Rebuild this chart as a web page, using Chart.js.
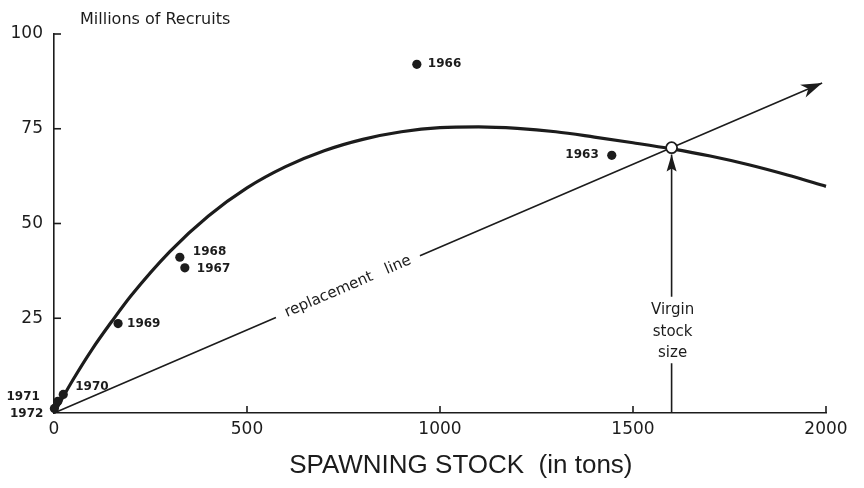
<!DOCTYPE html>
<html><head><meta charset="utf-8">
<script src="https://cdn.jsdelivr.net/npm/chart.js@4.4.0/dist/chart.umd.min.js"></script>
<style>html,body{margin:0;padding:0;background:#fff}#wrap{width:864px;height:488px}</style>
</head><body><div id="wrap"><canvas id="c" width="864" height="488"></canvas></div>
<script>
// ---- data ----
const years = ['1963', '1966', '1967', '1968', '1969', '1970', '1971', '1972'];
const stockTons = [1445, 940, 339, 326, 166, 24, 10, 1];
const recruitsMillions = [68, 92, 38.3, 41.1, 23.6, 4.9, 3.1, 1.2];

const curveStock = [0, 50, 100, 150, 200, 300, 400, 500, 600, 700, 800, 900, 1000, 1100, 1200, 1300, 1400, 1500, 1600, 1700, 1800, 1900, 2000];
const curveRecruits = [0, 8.9, 17, 24.2, 31, 42.6, 52, 59.4, 65, 69.2, 72.2, 74.2, 75.3, 75.5, 75.1, 74.2, 72.8, 71.3, 69.7, 67.8, 65.5, 62.8, 59.8];

const replacementStock = [0, 575, null, 948, 1990];
const replacementRecruits = [0, 25.2, null, 41.5, 87.1];

const virginStock = [1600];
const virginRecruits = [70];
const virginArrowRecruits = [0, 13.1, null, 30.7, 68.2];

const xTickValues = [0, 500, 1000, 1500, 2000];
const yTickValues = [0, 25, 50, 75, 100];
const xTickLabels = ['0', '500', '1000', '1500', '2000'];
const yTickLabels = ['0', '25', '50', '75', '100'];

const yAxisTitle = 'Millions of Recruits';
const xAxisTitle = 'SPAWNING STOCK  (in tons)';
const replacementLabel = 'replacement   line';
const virginLabel = ['Virgin', 'stock', 'size'];

// ---- styles ----
const INK = '#1c1c1c';
const labelStyle = {
  '1963': {dx: -13, dy: 0, align: 'right'},
  '1966': {dx: 11, dy: 0, align: 'left'},
  '1967': {dx: 12, dy: 1, align: 'left'},
  '1968': {dx: 13, dy: -5, align: 'left'},
  '1969': {dx: 9, dy: 0, align: 'left'},
  '1970': {dx: 12, dy: -8, align: 'left'},
  '1971': {dx: -18, dy: -4, align: 'right'},
  '1972': {dx: -11, dy: 5, align: 'right'}
};

function pts(xs, ys) {
  return xs.map((x, i) => (x === null || ys[i] === null) ? {x: NaN, y: NaN} : {x: x, y: ys[i]});
}

function arrowHead(ctx, tx, ty, fx, fy, len, half, notch) {
  const a = Math.atan2(ty - fy, tx - fx);
  const c = Math.cos(a), s = Math.sin(a);
  const bx = tx - len * c, by = ty - len * s;
  ctx.beginPath();
  ctx.moveTo(tx, ty);
  ctx.lineTo(bx - half * s, by + half * c);
  ctx.lineTo(tx - (len - notch) * c, ty - (len - notch) * s);
  ctx.lineTo(bx + half * s, by - half * c);
  ctx.closePath();
  ctx.fill();
}

const annotations = {
  id: 'annotations',
  afterDatasetsDraw(chart) {
    const ctx = chart.ctx;
    const xs = chart.scales.x, ys = chart.scales.y;
    const area = chart.chartArea;
    ctx.save();
    ctx.strokeStyle = INK;
    ctx.fillStyle = INK;
    ctx.lineWidth = 1.6;
    // inward tick marks
    xTickValues.slice(1).forEach(v => {
      const px = xs.getPixelForValue(v);
      ctx.beginPath(); ctx.moveTo(px, area.bottom); ctx.lineTo(px, area.bottom - 7); ctx.stroke();
    });
    yTickValues.slice(1).forEach(v => {
      const py = ys.getPixelForValue(v);
      ctx.beginPath(); ctx.moveTo(area.left, py); ctx.lineTo(area.left + 7, py); ctx.stroke();
    });
    // arrowheads
    const n = replacementStock.length - 1;
    arrowHead(ctx,
      xs.getPixelForValue(replacementStock[n]), ys.getPixelForValue(replacementRecruits[n]),
      xs.getPixelForValue(replacementStock[n - 1]), ys.getPixelForValue(replacementRecruits[n - 1]),
      21, 7, 6);
    const m = virginArrowRecruits.length - 1;
    arrowHead(ctx,
      xs.getPixelForValue(virginStock[0]), ys.getPixelForValue(virginArrowRecruits[m]),
      xs.getPixelForValue(virginStock[0]), ys.getPixelForValue(virginArrowRecruits[m - 1]),
      17, 5, 3);
    // point labels
    ctx.font = 'bold 12px "DejaVu Sans"';
    ctx.textBaseline = 'middle';
    years.forEach((yr, i) => {
      const st = labelStyle[yr];
      ctx.textAlign = st.align;
      ctx.fillText(yr, xs.getPixelForValue(stockTons[i]) + st.dx, ys.getPixelForValue(recruitsMillions[i]) + st.dy);
    });
    // replacement line label along the line
    const x0 = xs.getPixelForValue(replacementStock[1]), y0 = ys.getPixelForValue(replacementRecruits[1]);
    const x1 = xs.getPixelForValue(replacementStock[3]), y1 = ys.getPixelForValue(replacementRecruits[3]);
    ctx.save();
    ctx.translate((x0 + x1) / 2, (y0 + y1) / 2);
    ctx.rotate(Math.atan2(y1 - y0, x1 - x0));
    ctx.font = '15px "DejaVu Sans"';
    ctx.textAlign = 'center';
    ctx.textBaseline = 'middle';
    ctx.fillText(replacementLabel, 0, 0);
    ctx.restore();
    // virgin stock size label
    ctx.font = '15px "DejaVu Sans"';
    ctx.textAlign = 'center';
    ctx.textBaseline = 'middle';
    const vx = xs.getPixelForValue(virginStock[0]);
    const top = ys.getPixelForValue(virginArrowRecruits[3]);
    const bot = ys.getPixelForValue(virginArrowRecruits[1]);
    const mid = (top + bot) / 2;
    virginLabel.forEach((t, i) => ctx.fillText(t, vx + 1, mid + 2 + (i - 1) * 21.5));
    // axis titles
    ctx.font = '16px "DejaVu Sans"';
    ctx.textAlign = 'left';
    ctx.fillText(yAxisTitle, area.left + 26, 20);
    ctx.font = '26px "Liberation Sans"';
    ctx.textAlign = 'center';
    ctx.fillText(xAxisTitle, area.left + (area.right - area.left) * 0.527, 466);
    ctx.restore();
  }
};

new Chart(document.getElementById('c'), {
  type: 'scatter',
  data: {
    datasets: [
      {
        label: 'Virgin stock',
        type: 'scatter',
        data: pts(virginStock, virginRecruits),
        pointRadius: 5.5,
        pointBackgroundColor: '#ffffff',
        pointBorderColor: INK,
        pointBorderWidth: 1.8,
        order: 0
      },
      {
        label: 'Observed',
        type: 'scatter',
        data: pts(stockTons, recruitsMillions),
        pointRadius: 4.6,
        pointBackgroundColor: INK,
        pointBorderColor: INK,
        pointBorderWidth: 0,
        clip: false,
        order: 1
      },
      {
        label: 'Stock-recruitment curve',
        type: 'line',
        data: pts(curveStock, curveRecruits),
        borderColor: INK,
        borderWidth: 3.2,
        pointRadius: 0,
        cubicInterpolationMode: 'monotone',
        fill: false,
        clip: false,
        order: 2
      },
      {
        label: 'Replacement line',
        type: 'line',
        data: pts(replacementStock, replacementRecruits),
        borderColor: INK,
        borderWidth: 1.6,
        pointRadius: 0,
        spanGaps: false,
        tension: 0,
        fill: false,
        clip: false,
        order: 3
      },
      {
        label: 'Virgin arrow',
        type: 'line',
        data: pts(virginArrowRecruits.map(() => virginStock[0]), virginArrowRecruits),
        borderColor: INK,
        borderWidth: 1.6,
        pointRadius: 0,
        spanGaps: false,
        tension: 0,
        fill: false,
        order: 4
      }
    ]
  },
  options: {
    responsive: false,
    animation: false,
    events: [],
    layout: {padding: {top: 34, right: 38, left: 0, bottom: 0}},
    plugins: {legend: {display: false}, tooltip: {enabled: false}, title: {display: false}},
    scales: {
      x: {
        type: 'linear', min: 0, max: 2000,
        afterBuildTicks: s => { s.ticks = xTickValues.map(v => ({value: v})); },
        afterFit: s => { s.height = 75; },
        grid: {display: false, drawTicks: false},
        border: {display: true, color: INK, width: 1.6},
        ticks: {
          padding: 6, color: INK, maxRotation: 0,
          font: {family: 'DejaVu Sans', size: 17},
          callback: (v) => xTickLabels[xTickValues.indexOf(v)]
        }
      },
      y: {
        type: 'linear', min: 0, max: 100,
        afterBuildTicks: s => { s.ticks = yTickValues.slice(1).map(v => ({value: v})); },
        afterFit: s => { s.width = 54; },
        grid: {display: false, drawTicks: false},
        border: {display: true, color: INK, width: 1.6},
        ticks: {
          padding: 11, color: INK,
          font: {family: 'DejaVu Sans', size: 17},
          callback: (v) => yTickLabels[yTickValues.indexOf(v)]
        }
      }
    }
  },
  plugins: [annotations]
});
</script>
</body></html>
